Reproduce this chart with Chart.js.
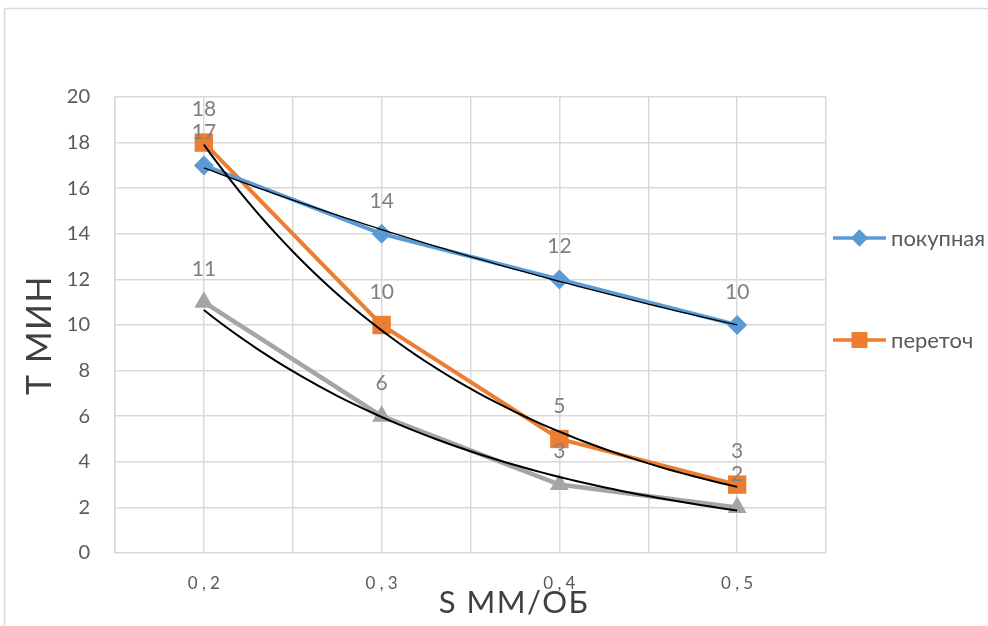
<!DOCTYPE html>
<html>
<head>
<meta charset="utf-8">
<script src="https://cdn.jsdelivr.net/npm/chart.js@4/dist/chart.umd.min.js"></script>
<style>
  html, body { margin: 0; padding: 0; background: #fff; }
  #wrap { width: 988px; height: 626px; }
</style>
</head>
<body>
<div id="wrap"><canvas id="myChart" width="988" height="626"></canvas></div>
<script>
// data
const categories = ['0,2', '0,3', '0,4', '0,5'];
const pokupnaya = [17, 14, 12, 10];
const peretoch = [18, 10, 5, 3];
const third = [11, 6, 3, 2];
const yTicks = [0, 2, 4, 6, 8, 10, 12, 14, 16, 18, 20];

const FONT = 'Lato, "Open Sans", sans-serif';
const TEXT = '#595959';

// exponential trend line like Excel's, fitted on the series itself
const expTrend = (vals) => {
  const n = vals.length;
  const xs = vals.map((v, i) => i);
  const ls = vals.map(v => Math.log(v));
  const mx = xs.reduce((a, b) => a + b, 0) / n;
  const my = ls.reduce((a, b) => a + b, 0) / n;
  let sxy = 0, sxx = 0;
  xs.forEach((x, i) => { sxy += (x - mx) * (ls[i] - my); sxx += (x - mx) * (x - mx); });
  const b = sxy / sxx;
  const a = my - b * mx;
  const pts = [];
  for (let k = 0; k <= 60; k++) {
    const x = (n - 1) * k / 60;
    pts.push({ x: x, y: Math.exp(a + b * x) });
  }
  return pts;
};

const toPts = vals => vals.map((v, i) => ({ x: i, y: v }));

const series = [
  { label: 'покупная', data: pokupnaya, color: '#5B9BD5', style: 'rectRot', r: 10, lr: 8.5, w: 4, tw: 1.3, legend: true },
  { label: 'переточ', data: peretoch, color: '#ED7D31', style: 'rect', r: 13, lr: 11, w: 4, tw: 2, legend: true },
  { label: '', data: third, color: '#A5A5A5', style: 'triangle', r: 11, lr: 8, w: 4.5, tw: 2, legend: false }
];

const datasets = [];
series.forEach(s => {
  datasets.push({
    label: s.label,
    data: toPts(s.data),
    borderColor: s.color,
    backgroundColor: s.color,
    borderWidth: s.w,
    pointStyle: s.style,
    pointRadius: s.r,
    pointBorderWidth: 0,
    tension: 0,
    order: 2,
    isMain: true
  });
});
series.forEach(s => {
  datasets.push({
    label: 'trend',
    data: expTrend(s.data),
    borderColor: '#000',
    borderWidth: s.tw,
    pointRadius: 0,
    tension: 0,
    order: 1
  });
});

const decor = {
  id: 'decor',
  beforeDraw(chart) {
    const ctx = chart.ctx;
    ctx.save();
    ctx.fillStyle = '#fff';
    ctx.fillRect(0, 0, chart.width, chart.height);
    ctx.strokeStyle = '#d9d9d9';
    ctx.lineWidth = 1.5;
    ctx.strokeRect(4.5, 8.5, chart.width + 10, chart.height + 10);
    ctx.restore();
  },
  afterDatasetsDraw(chart) {
    const ctx = chart.ctx;
    ctx.save();
    // data labels
    ctx.font = '21px ' + FONT;
    ctx.fillStyle = '#808080';
    ctx.textAlign = 'center';
    ctx.textBaseline = 'middle';
    chart.data.datasets.forEach((ds, di) => {
      if (!ds.isMain) return;
      chart.getDatasetMeta(di).data.forEach((el, i) => {
        ctx.fillText(String(ds.data[i].y), el.x, el.y - 33);
      });
    });
    // legend
    const ly = [238, 340];
    let k = 0;
    series.forEach(s => {
      if (!s.legend) return;
      const y = ly[k++];
      ctx.strokeStyle = s.color;
      ctx.lineWidth = 3.5;
      ctx.beginPath();
      ctx.moveTo(833, y);
      ctx.lineTo(886, y);
      ctx.stroke();
      ctx.fillStyle = s.color;
      Chart.helpers.drawPoint(ctx, { pointStyle: s.style, radius: s.lr, borderWidth: 0 }, 859.5, y);
      ctx.fill();
      ctx.fillStyle = TEXT;
      ctx.font = '22px ' + FONT;
      ctx.textAlign = 'left';
      ctx.fillText(s.label, 891, y + 1);
    });
    // axis titles
    ctx.fillStyle = '#404040';
    ctx.textAlign = 'center';
    ctx.font = '31px ' + FONT;
    ctx.letterSpacing = '1.5px';
    ctx.fillText('S ММ/ОБ', 514, 603);
    ctx.font = '34px ' + FONT;
    ctx.translate(40, 335);
    ctx.rotate(-Math.PI / 2);
    ctx.fillText('Т МИН', 0, 0);
    ctx.restore();
  }
};

new Chart(document.getElementById('myChart'), {
  type: 'line',
  data: { datasets: datasets },
  options: {
    responsive: false,
    animation: false,
    layout: { padding: { top: 97, right: 162, left: 0, bottom: 0 } },
    plugins: { legend: { display: false }, tooltip: { enabled: false } },
    scales: {
      x: {
        type: 'linear',
        min: -0.5,
        max: 3.5,
        afterFit: s => { s.height = 73; },
        afterBuildTicks: s => { s.ticks = []; for (let v = -0.5; v <= 3.5; v += 0.5) s.ticks.push({ value: v }); },
        grid: { color: '#d9d9d9', lineWidth: 1.5, drawTicks: false },
        border: { display: false },
        ticks: {
          autoSkip: false,
          padding: 20,
          color: TEXT,
          font: { family: FONT, size: 17 },
          callback: v => Number.isInteger(v) ? categories[v].split('').join('\u2005') : ''
        }
      },
      y: {
        min: 0,
        max: 20,
        afterFit: s => { s.width = 115; },
        afterBuildTicks: s => { s.ticks = yTicks.map(v => ({ value: v })); },
        grid: { color: '#d9d9d9', lineWidth: 1.5, drawTicks: false },
        border: { color: '#d9d9d9', width: 1.5 },
        ticks: { padding: 25, color: TEXT, font: { family: FONT, size: 20 } }
      }
    }
  },
  plugins: [decor]
});
</script>
</body>
</html>
